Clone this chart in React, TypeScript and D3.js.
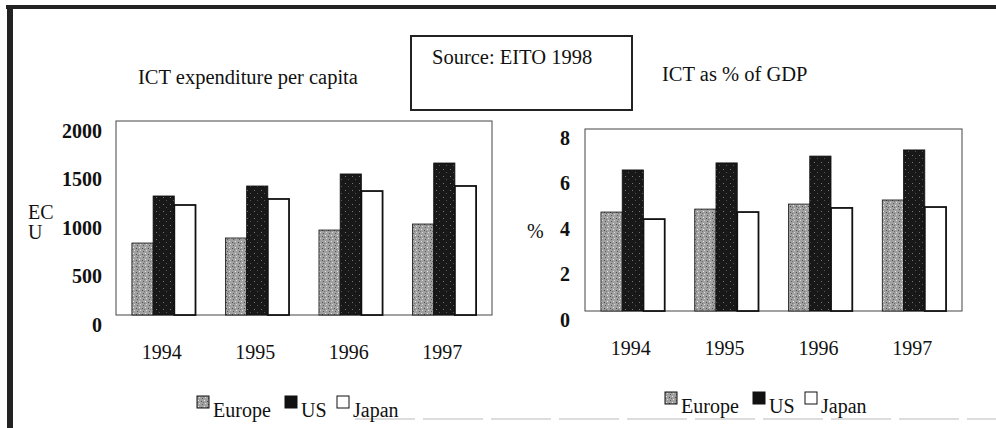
import React from "react";
import * as d3 from "d3";

const years = ["1994", "1995", "1996", "1997"];
const seriesNames = ["Europe", "US", "Japan"];

// ICT expenditure per capita (ECU)
const ecuEurope = [742, 794, 876, 938];
const ecuUS = [1227, 1330, 1454, 1567];
const ecuJapan = [1134, 1196, 1278, 1330];
const ecuTicks = [0, 500, 1000, 1500, 2000];

// ICT as % of GDP
const gdpEurope = [4.35, 4.48, 4.7, 4.88];
const gdpUS = [6.2, 6.51, 6.81, 7.08];
const gdpJapan = [4.04, 4.35, 4.53, 4.57];
const gdpTicks = [0, 2, 4, 6, 8];

const W = 996;
const H = 428;
const FONT = "'Liberation Serif', 'Times New Roman', serif";

const fills: Record<string, string> = { Europe: "url(#speckGray)", US: "url(#speckDark)", Japan: "#ffffff" };

type PanelProps = {
  x0: number; x1: number; yTop: number; yBot: number;
  max: number; ticks: number[]; data: number[][];
  tickX: number; tickDy: number; labelY: number;
  legendX: number; legendY: number;
};

function Panel(p: PanelProps) {
  const x = d3.scaleBand<string>().domain(years).range([p.x0, p.x1]).paddingInner(0.32).paddingOuter(0.17);
  const xi = d3.scaleBand<string>().domain(seriesNames).range([0, x.bandwidth()]);
  const y = d3.scaleLinear().domain([0, p.max]).range([p.yBot, p.yTop]);
  const legendOffsets = [0, 88, 140];
  return (
    <g>
      <rect x={p.x0} y={p.yTop} width={p.x1 - p.x0} height={p.yBot - p.yTop} fill="#fff" stroke="#444" strokeWidth={1} />
      {years.map((yr, i) =>
        seriesNames.map((s, j) => {
          const v = p.data[j][i];
          return (
            <rect key={yr + s} x={(x(yr) as number) + (xi(s) as number)} y={y(v)} width={xi.bandwidth()} height={y(0) - y(v)}
              fill={fills[s]} stroke="#111" strokeWidth={s === "Japan" ? 1.8 : 0.8} />
          );
        })
      )}
      {p.ticks.map((t) => (
        <text key={t} x={p.tickX} y={y(t) + p.tickDy} textAnchor="end" dominantBaseline="middle" fontSize={20} fontWeight="bold" fill="#111">{t}</text>
      ))}
      {years.map((yr) => (
        <text key={yr} x={(x(yr) as number) + x.bandwidth() / 2 - 2} y={p.labelY} textAnchor="middle" dominantBaseline="middle" fontSize={20} fill="#111">{yr}</text>
      ))}
      {seriesNames.map((s, j) => (
        <g key={s} transform={`translate(${p.legendX + legendOffsets[j]},${p.legendY})`}>
          <rect x={0} y={-21} width={12} height={12} fill={s === "Europe" ? "url(#speckGray)" : s === "US" ? "#111" : "#fff"} stroke="#111" strokeWidth={1} />
          <text x={16} y={0} fontSize={20} fill="#111">{s}</text>
        </g>
      ))}
    </g>
  );
}

export default function App() {
  return (
    <svg width={W} height={H} style={{ position: "absolute", left: 0, top: 0, background: "#fff", fontFamily: FONT }}>
      <defs>
        <pattern id="speckGray" patternUnits="userSpaceOnUse" width="6" height="6">
          <rect width="6" height="6" fill="#a0a0a0" />
          <rect x="1" y="1" width="1" height="1" fill="#e8e8e8" />
          <rect x="4" y="2" width="1" height="1" fill="#4a4a4a" />
          <rect x="2" y="4" width="1" height="1" fill="#dcdcdc" />
          <rect x="5" y="5" width="1" height="1" fill="#5a5a5a" />
          <rect x="0" y="3" width="1" height="1" fill="#707070" />
        </pattern>
        <pattern id="speckDark" patternUnits="userSpaceOnUse" width="7" height="7">
          <rect width="7" height="7" fill="#181818" />
          <rect x="2" y="1" width="1" height="1" fill="#777" />
          <rect x="5" y="4" width="1" height="1" fill="#555" />
        </pattern>
      </defs>
      <rect x={0} y={0} width={W} height={H} fill="#fff" />
      {/* scan frame */}
      <rect x={6} y={5} width={990} height={4} fill="#222" />
      <rect x={7} y={5} width={6} height={423} fill="#222" />
      <line x1={355} x2={996} y1={419} y2={419} stroke="#bbb" strokeWidth={1} strokeDasharray="60 8" />

      {/* titles */}
      <text x={138} y={84} fontSize={20.5} fill="#111">ICT expenditure per capita</text>
      <rect x={411} y={36} width={221} height={74} fill="#fff" stroke="#222" strokeWidth={2} />
      <text x={432} y={64} fontSize={20.5} fill="#111">Source: EITO 1998</text>
      <text x={662} y={81} fontSize={20.5} fill="#111">ICT as % of GDP</text>

      {/* axis unit labels */}
      <text x={28} y={219} fontSize={20} fill="#111">EC</text>
      <text x={28} y={239} fontSize={20} fill="#111">U</text>
      <text x={527} y={238} fontSize={20} fill="#111">%</text>

      <Panel x0={116} x1={492} yTop={121} yBot={315} max={2000} ticks={ecuTicks}
        data={[ecuEurope, ecuUS, ecuJapan]} tickX={102} tickDy={12} labelY={354}
        legendX={197} legendY={417} />
      <Panel x0={585} x1={962} yTop={129} yBot={311} max={8} ticks={gdpTicks}
        data={[gdpEurope, gdpUS, gdpJapan]} tickX={570} tickDy={11} labelY={350}
        legendX={665} legendY={413} />
    </svg>
  );
}
